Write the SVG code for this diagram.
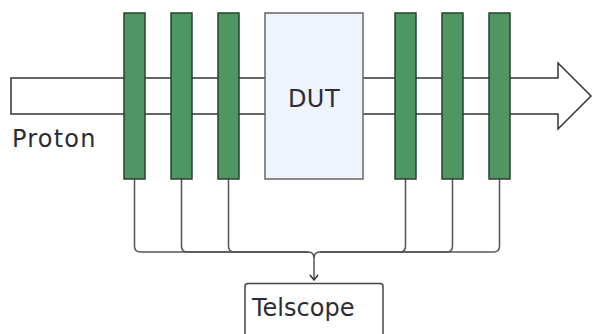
<svg xmlns="http://www.w3.org/2000/svg" width="595" height="334" viewBox="0 0 595 334">
<defs>
<style>
.bar{fill:#4f9662;stroke:#27402d;stroke-width:1.5}
.conn{fill:none;stroke:#555;stroke-width:1.5}
.txt{font-family:"DejaVu Sans","Noto Sans",sans-serif;font-size:24px;fill:#2b2d33}
</style>
<marker id="ah" viewBox="0 0 10 10" refX="9" refY="5" markerWidth="10" markerHeight="10" markerUnits="userSpaceOnUse" orient="auto">
<path d="M4,1 L9,5 L4,9" fill="none" stroke="#333" stroke-width="1.5"/>
</marker>
</defs>
<rect width="595" height="334" fill="#fff"/>
<g id="beam">
<polygon points="11,78 558,78 558,63 591,96 558,129 558,114 11,114" fill="#fff" stroke="#333" stroke-width="1.5"/>
<text class="txt" x="12" y="146.5" letter-spacing="1.2">Proton</text>
</g>
<g id="connectors">
<path class="conn" d="M134.5,179 V246 Q134.5,252 140.5,252 H308 Q314,252 314,258 V280" marker-end="url(#ah)"/>
<path class="conn" d="M181.5,179 V246 Q181.5,252 187.5,252 H308"/>
<path class="conn" d="M228.5,179 V246 Q228.5,252 234.5,252 H308"/>
<path class="conn" d="M499.5,179 V246 Q499.5,252 493.5,252 H320 Q314,252 314,258"/>
<path class="conn" d="M452.5,179 V246 Q452.5,252 446.5,252 H320"/>
<path class="conn" d="M405.5,179 V246 Q405.5,252 399.5,252 H320"/>
</g>
<g id="plane1"><rect class="bar" x="124" y="13" width="21" height="166"/></g>
<g id="plane2"><rect class="bar" x="171" y="13" width="21" height="166"/></g>
<g id="plane3"><rect class="bar" x="218" y="13" width="21" height="166"/></g>
<g id="dut">
<rect x="265" y="13" width="98" height="166" fill="#eef3fc" stroke="#666" stroke-width="1.5"/>
<text class="txt" x="314" y="106.5" text-anchor="middle" letter-spacing="0.5">DUT</text>
</g>
<g id="plane4"><rect class="bar" x="395" y="13" width="21" height="166"/></g>
<g id="plane5"><rect class="bar" x="442" y="13" width="21" height="166"/></g>
<g id="plane6"><rect class="bar" x="489" y="13" width="21" height="166"/></g>
<g id="telescope">
<rect x="245" y="283.5" width="138" height="70" rx="3" fill="#fff" stroke="#444" stroke-width="1.5"/>
<text class="txt" x="252" y="316">Telscope</text>
</g>
</svg>
